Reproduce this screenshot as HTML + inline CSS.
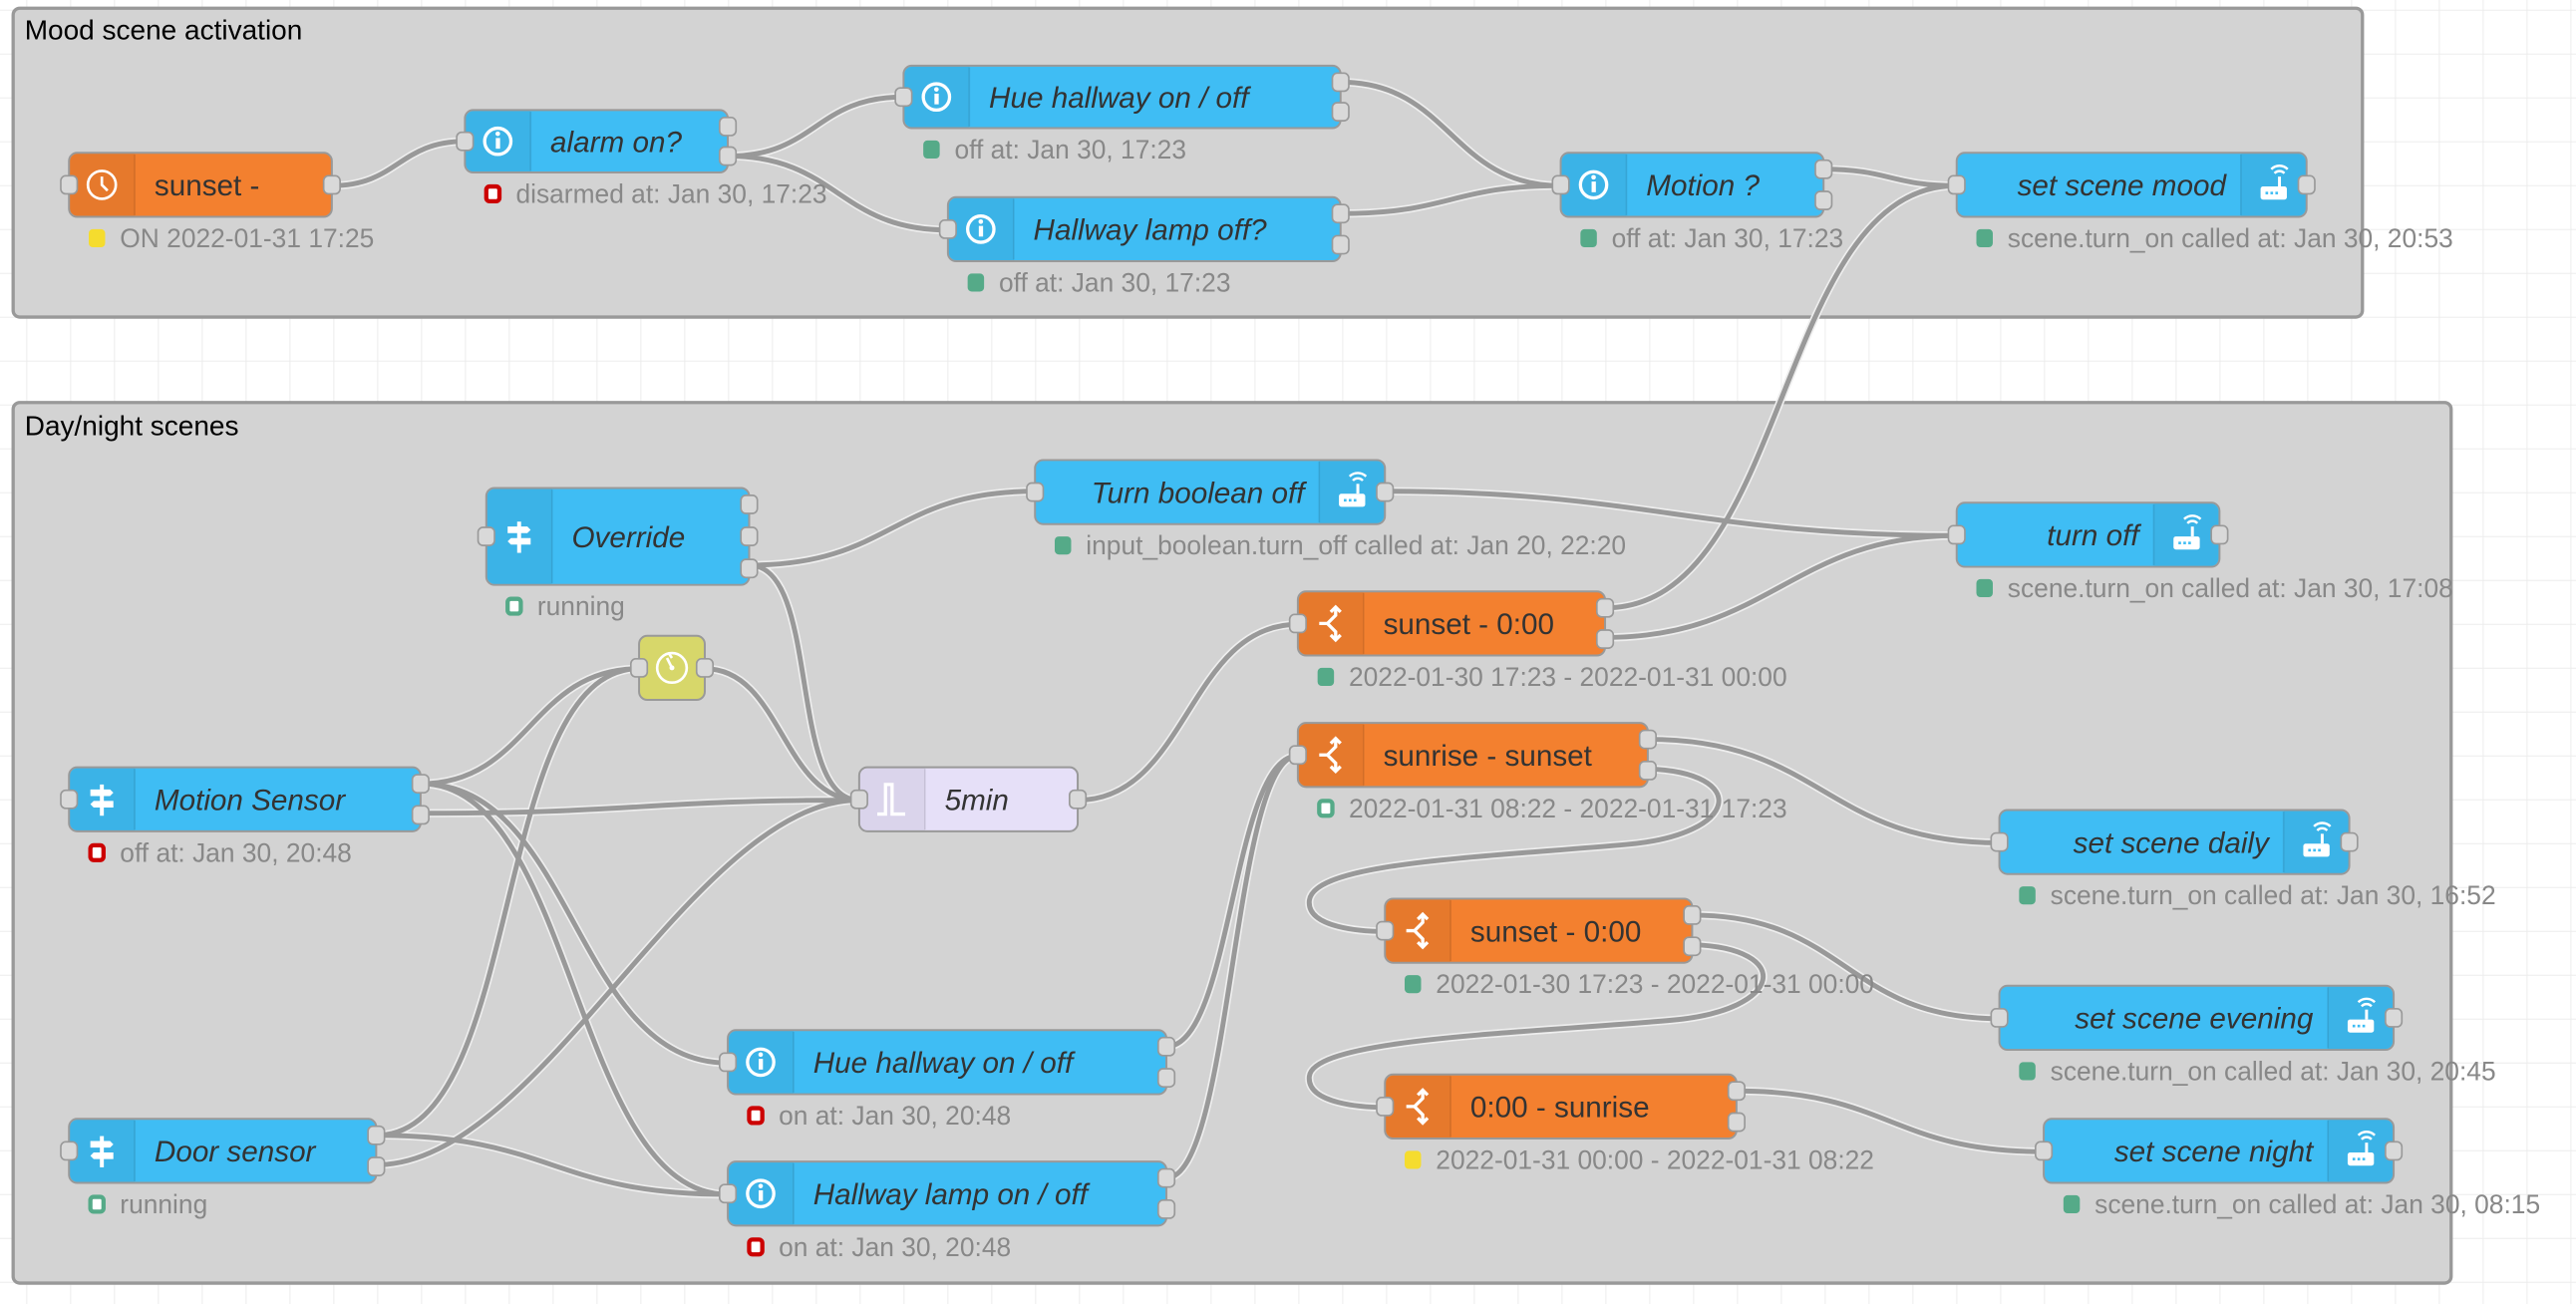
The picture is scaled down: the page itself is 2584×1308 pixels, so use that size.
<!DOCTYPE html>
<html><head><meta charset="utf-8"><style>
html,body{margin:0;padding:0;background:#fff;}
svg{display:block;}
.lb{font-family:"Liberation Sans",sans-serif;font-size:18px;fill:#333;}
.it{font-style:italic;}
.st{font-family:"Liberation Sans",sans-serif;font-size:16px;fill:#888;}
.gt{font-family:"Liberation Sans",sans-serif;font-size:17px;fill:#000;}
.w{fill:none;stroke:#999;stroke-width:3;}
.wo{fill:none;stroke:#eee;stroke-width:5;}
.pt{fill:#d9d9d9;stroke:#999;stroke-width:1;}
.nd{stroke:#999;stroke-width:1.2;}
.ic{fill:rgba(0,0,0,0.05);}
.sep{stroke:rgba(0,0,0,0.1);stroke-width:1;}
</style></head><body>
<svg width="2584" height="1308" viewBox="0 0 1568 793.7" preserveAspectRatio="none" xmlns="http://www.w3.org/2000/svg">
<defs>
<pattern id="grid" x="16" y="5.9" width="26.7" height="26.7" patternUnits="userSpaceOnUse">
<path d="M0 0 H26.7 M0 0 V26.7" stroke="#ececec" stroke-width="1.2" fill="none"/>
</pattern>
<g id="info"><circle r="8" fill="none" stroke="#fff" stroke-width="2"/><rect x="-1.2" y="-2" width="2.6" height="6.5" fill="#fff"/><circle cx="0" cy="-4.6" r="1.4" fill="#fff"/></g>
<g id="clock"><circle r="8.5" fill="none" stroke="#fff" stroke-width="1.6"/><path d="M0 -5 V0 L3.5 3.5" stroke="#fff" stroke-width="1.6" fill="none"/></g>
<g id="sign"><rect x="-1.2" y="-9" width="2.4" height="19" fill="#fff"/><path d="M-7 -6 H5 L7 -4 L5 -2 H-7 Z M7 1 H-5 L-7 3 L-5 5 H7 Z" fill="#fff"/></g>
<g id="sw" fill="none" stroke="#fff" stroke-width="2"><path d="M-7 0 H-2 L3 -5 V-9 M-2 0 L3 5 V9"/><path d="M0 -7 L3 -10 L6 -7 M0 7 L3 10 L6 7"/></g>
<g id="router"><rect x="-8" y="1" width="16" height="8" rx="1.5" fill="#fff"/><rect x="2.6" y="-5" width="1.8" height="6" fill="#fff"/><rect x="-5" y="4.2" width="1.6" height="1.6" fill="#3fbdf4"/><rect x="-2" y="4.2" width="1.6" height="1.6" fill="#3fbdf4"/><rect x="1" y="4.2" width="1.6" height="1.6" fill="#3fbdf4"/><path d="M0.5 -7 A4 4 0 0 1 6.5 -7 M-1.5 -9.5 A7 7 0 0 1 8.5 -9.5" stroke="#fff" stroke-width="1.5" fill="none"/></g>
<g id="trig"><circle r="9" fill="none" stroke="#fff" stroke-width="1.6"/><path d="M-2 -9 L0 -6 M0 0 L-3 -6" stroke="#fff" stroke-width="1.6"/><circle r="1.5" fill="#fff"/></g>
<g id="pulse"><path d="M-9 9 H-4 V-9 H0 V9 H8" fill="none" stroke="#fff" stroke-width="2"/></g>
</defs>
<rect width="1568" height="793.7" fill="#fff"/>
<rect width="1568" height="793.7" fill="url(#grid)"/>

<rect x="8" y="5" width="1430" height="188" rx="4" fill="#d3d3d3" stroke="#999" stroke-width="2"/>
<text class="gt" x="15" y="24">Mood scene activation</text>
<rect x="8" y="245" width="1484" height="536" rx="4" fill="#d3d3d3" stroke="#999" stroke-width="2"/>
<text class="gt" x="15" y="265">Day/night scenes</text>

<g id="wires">
<path d="M202 113 C242 113 243 86 283 86"/>
<path d="M443 95 C497 95 496 59 550 59"/>
<path d="M443 95 C510 95 510 140 577 140"/>
<path d="M816 50 C883 50 883 113 950 113"/>
<path d="M816 130 C883 130 883 113 950 113"/>
<path d="M1110 103 C1150 103 1151 113 1191 113"/>
<path d="M977 370 C1090 370 1080 113 1191 113"/>
<path d="M456 344 C543 344 543 299 630 299"/>
<path d="M456 344 C500 344 479 487 523 487"/>
<path d="M843 299 C1000 299 1034 326 1191 326"/>
<path d="M977 388 C1077 388 1091 326 1191 326"/>
<path d="M256 477 C322 477 323 407 389 407"/>
<path d="M229 691 C320 691 298 407 389 407"/>
<path d="M429 407 C476 407 476 487 523 487"/>
<path d="M256 495 C390 495 389 487 523 487"/>
<path d="M229 709 C330 709 422 487 523 487"/>
<path d="M256 477 C350 477 349 647 443 647"/>
<path d="M256 477 C350 477 349 727 443 727"/>
<path d="M229 691 C336 691 336 727 443 727"/>
<path d="M656 487 C723 487 723 380 790 380"/>
<path d="M710 637 C750 637 750 460 790 460"/>
<path d="M710 717 C750 717 750 460 790 460"/>
<path d="M1003 450 C1110 450 1110 513 1217 513"/>
<path d="M1003 468 C1065 470 1060 508 990 514 C900 522 800 525 797 548 C795 565 830 567 843 567"/>
<path d="M1030 557 C1124 557 1123 620 1217 620"/>
<path d="M1030 575 C1092 577 1087 615 1017 621 C927 629 800 632 797 655 C795 672 830 674 843 674"/>
<path d="M1057 664 C1150 664 1151 701 1244 701"/>
</g>

<g id="nodes"></g>
</svg>
<script>
(function(){
var wg=document.getElementById("wires");
var paths=[].slice.call(wg.querySelectorAll("path"));
paths.forEach(function(p){var o=p.cloneNode();o.setAttribute("class","wo");wg.insertBefore(o,wg.firstChild);p.setAttribute("class","w");});
})();
</script>
<script>
(function(){
var ns="http://www.w3.org/2000/svg";
var G=document.getElementById("nodes");
function el(t,a,p){var e=document.createElementNS(ns,t);for(var k in a)e.setAttribute(k,a[k]);(p||G).appendChild(e);return e;}
var COL={b:"#3fbdf4",o:"#f3802f",y:"#d7d76a",d:"#e6e0f8"};
var SC={g:"#55aa88",r:"#cc0000",y:"#f5dc2e"};
var N=[
[42,93,160,39,"o","sunset -",0,"clock",0,1,1,["y",0,"ON 2022-01-31 17:25"]],
[283,67,160,38,"b","alarm on?",1,"info",0,1,2,["r",1,"disarmed at: Jan 30, 17:23"]],
[550,40,266,38,"b","Hue hallway on / off",1,"info",0,1,2,["g",0,"off at: Jan 30, 17:23"]],
[577,120,239,39,"b","Hallway lamp off?",1,"info",0,1,2,["g",0,"off at: Jan 30, 17:23"]],
[950,93,160,39,"b","Motion ?",1,"info",0,1,2,["g",0,"off at: Jan 30, 17:23"]],
[1191,93,213,39,"b","set scene mood",1,"router",1,1,1,["g",0,"scene.turn_on called at: Jan 30, 20:53"]],
[296,297,160,59,"b","Override",1,"sign",0,1,3,["g",1,"running"]],
[630,280,213,39,"b","Turn boolean off",1,"router",1,1,1,["g",0,"input_boolean.turn_off called at: Jan 20, 22:20"]],
[1191,306,160,39,"b","turn off",1,"router",1,1,1,["g",0,"scene.turn_on called at: Jan 30, 17:08"]],
[389,387,40,39,"y","",0,"trig",0,1,1,null],
[523,467,133,39,"d","5min",1,"pulse",0,1,1,null],
[42,467,214,39,"b","Motion Sensor",1,"sign",0,1,2,["r",1,"off at: Jan 30, 20:48"]],
[42,681,187,39,"b","Door sensor",1,"sign",0,1,2,["g",1,"running"]],
[443,627,267,39,"b","Hue hallway on / off",1,"info",0,1,2,["r",1,"on at: Jan 30, 20:48"]],
[443,707,267,39,"b","Hallway lamp on / off",1,"info",0,1,2,["r",1,"on at: Jan 30, 20:48"]],
[790,360,187,39,"o","sunset - 0:00",0,"sw",0,1,2,["g",0,"2022-01-30 17:23 - 2022-01-31 00:00"]],
[790,440,213,39,"o","sunrise - sunset",0,"sw",0,1,2,["g",1,"2022-01-31 08:22 - 2022-01-31 17:23"]],
[843,547,187,39,"o","sunset - 0:00",0,"sw",0,1,2,["g",0,"2022-01-30 17:23 - 2022-01-31 00:00"]],
[843,654,214,39,"o","0:00 - sunrise",0,"sw",0,1,2,["y",0,"2022-01-31 00:00 - 2022-01-31 08:22"]],
[1217,493,213,39,"b","set scene daily",1,"router",1,1,1,["g",0,"scene.turn_on called at: Jan 30, 16:52"]],
[1217,600,240,39,"b","set scene evening",1,"router",1,1,1,["g",0,"scene.turn_on called at: Jan 30, 20:45"]],
[1244,681,213,39,"b","set scene night",1,"router",1,1,1,["g",0,"scene.turn_on called at: Jan 30, 08:15"]]
];
N.forEach(function(n){
var x=n[0],y=n[1],w=n[2],h=n[3],c=COL[n[4]],cy=y+h/2,R=n[8];
el("rect",{x:x,y:y,width:w,height:h,rx:5,fill:c,"class":"nd"});
var ix=R?x+w-40:x;
if(n[2]>40){
 el("path",{d:R?("M"+ix+" "+(y+0.6)+" H"+(x+w-5)+" A5 5 0 0 1 "+(x+w-0.6)+" "+(y+5)+" V"+(y+h-5)+" A5 5 0 0 1 "+(x+w-5)+" "+(y+h-0.6)+" H"+ix+" Z"):("M"+(x+40)+" "+(y+0.6)+" H"+(x+5)+" A5 5 0 0 0 "+(x+0.6)+" "+(y+5)+" V"+(y+h-5)+" A5 5 0 0 0 "+(x+5)+" "+(y+h-0.6)+" H"+(x+40)+" Z"),"class":"ic"});
 el("line",{x1:R?ix:x+40,y1:y+1,x2:R?ix:x+40,y2:y+h-1,"class":"sep"});
}
el("use",{href:"#"+n[7],x:ix+20,y:cy});
if(n[5]){
 var t=el("text",{"class":"lb"+(n[6]?" it":""),y:cy+6.5});
 if(R){t.setAttribute("x",x+w-49);t.setAttribute("text-anchor","end");}else t.setAttribute("x",x+52);
 t.textContent=n[5];
}
if(n[9])el("rect",{x:x-5,y:cy-5.5,width:10,height:11,rx:3,"class":"pt"});
var k=n[10];
for(var i=0;i<k;i++){var py=(k==1)?cy:(k==2?(i==0?y+10:y+h-10):[y+10,cy,y+h-10][i]);
 el("rect",{x:x+w-5,y:py-5.5,width:10,height:11,rx:3,"class":"pt"});}
var s=n[11];
if(s){var by=y+h;var col=SC[s[0]];
 if(s[1])el("rect",{x:x+13,y:by+8.5,width:8,height:9,rx:2,fill:"#fff",stroke:col,"stroke-width":2.6});
 else el("rect",{x:x+12,y:by+7.5,width:10,height:11,rx:2.5,fill:col});
 var st=el("text",{"class":"st",x:x+31,y:by+18.5});st.textContent=s[2];}
});
})();
</script>
</body></html>
